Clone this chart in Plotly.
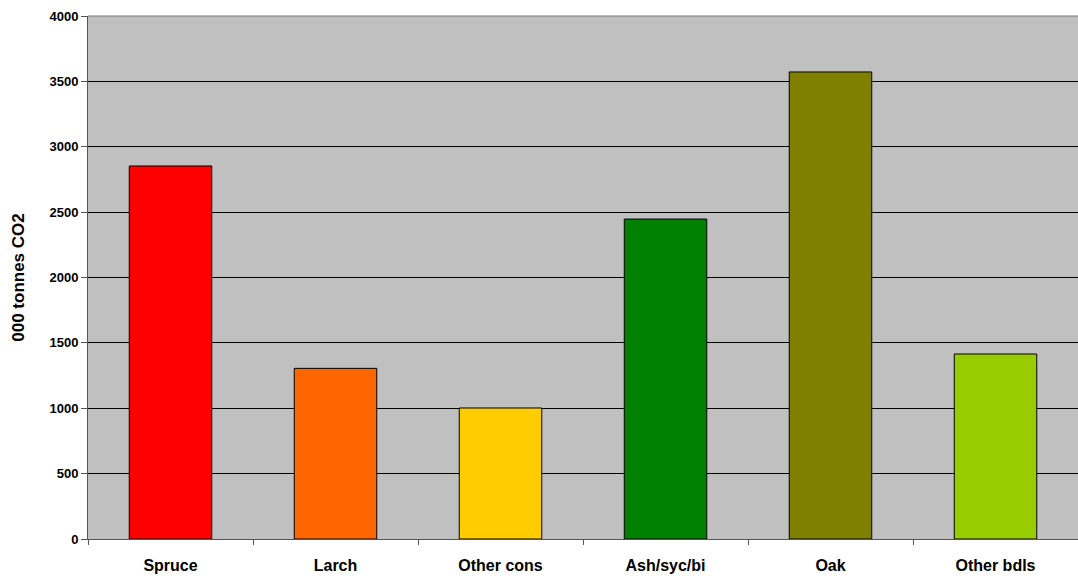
import plotly.graph_objects as go

categories = ["Spruce", "Larch", "Other cons", "Ash/syc/bi", "Oak", "Other bdls"]
values = [2853, 1305, 1002, 2447, 3572, 1415]
colors = ["#FF0000", "#FF6600", "#FFCC00", "#008000", "#808000", "#99CC00"]
y_ticks = [0, 500, 1000, 1500, 2000, 2500, 3000, 3500, 4000]

fig = go.Figure(go.Bar(
    x=categories, y=values,
    marker=dict(color=colors, line=dict(color="#000000", width=1)),
    width=0.5,
))

font_family = "Liberation Sans"
fig.update_layout(
    width=1078, height=578,
    margin=dict(l=88, r=0, t=16, b=39),
    paper_bgcolor="#FFFFFF",
    plot_bgcolor="#C0C0C0",
    showlegend=False,
    font=dict(family=font_family, color="#000000"),
    xaxis=dict(
        showgrid=False,
        ticks="outside", tickson="boundaries", ticklen=5, tickcolor="#555555",
        tickvals=categories,
        ticktext=["<b>%s</b>" % c for c in categories],
        tickfont=dict(size=16, family=font_family),
        showline=True, linecolor="#555555", linewidth=1,
        ticklabelstandoff=12,
    ),
    yaxis=dict(
        range=[0, 4000],
        tickvals=y_ticks,
        ticktext=["<b>%d</b>" % v for v in y_ticks],
        ticks="outside", ticklen=6, tickcolor="#555555",
        tickfont=dict(size=13, family=font_family),
        showgrid=True, gridcolor="#000000", gridwidth=1,
        showline=True, linecolor="#555555", linewidth=1,
        zeroline=False,
        title=dict(text="<b>000 tonnes CO2</b>", font=dict(size=17, family=font_family), standoff=20),
    ),
    shapes=[dict(type="line", xref="paper", yref="paper", x0=0, x1=1, y0=1, y1=1,
                 line=dict(color="#777777", width=1))],
    bargap=0.5,
)

fig.write_html("out.html")
